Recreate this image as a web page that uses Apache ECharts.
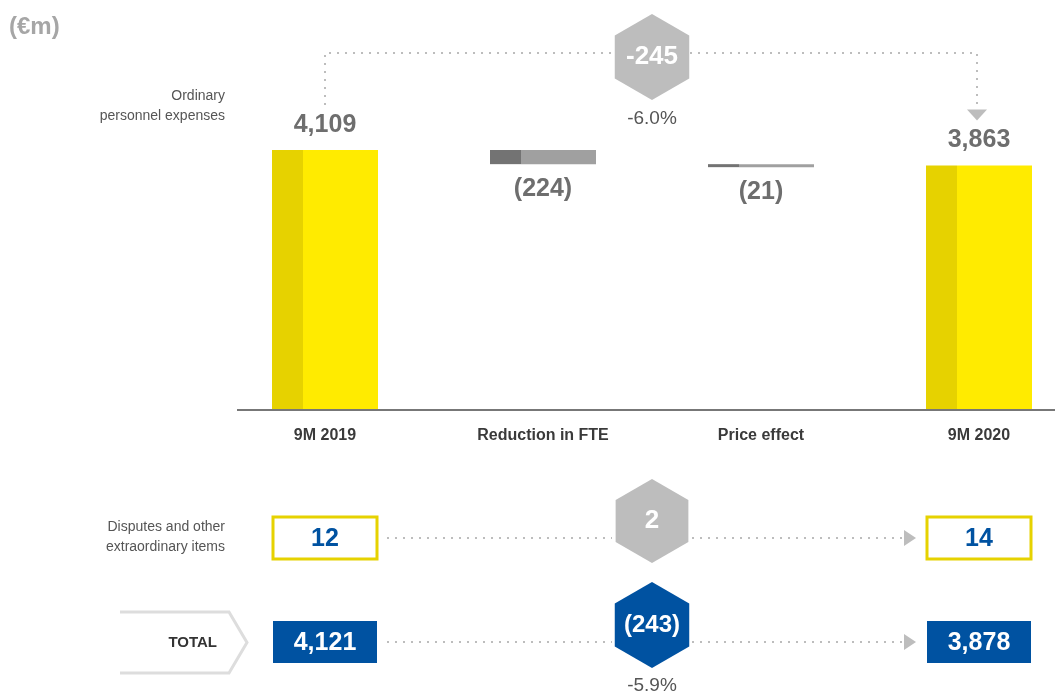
<!DOCTYPE html>
<html>
<head>
<meta charset="utf-8">
<script src="https://cdn.jsdelivr.net/npm/echarts@6/dist/echarts.min.js"></script>
<style>html,body{margin:0;padding:0;background:#fff}#c{width:1055px;height:696px}</style>
</head>
<body>
<div id="c"></div>
<script>
// ---- data ----
const categories = ['9M 2019', 'Reduction in FTE', 'Price effect', '9M 2020'];
const openingValue = 4109;
const bridgeDeltas = [-224, -21];
const closingValue = 3863;
const ordinaryChange = -245;
const ordinaryChangePct = '-6.0%';
const extraItems = [12, 14];
const extraChange = 2;
const totals = [4121, 3878];
const totalChange = -243;
const totalChangePct = '-5.9%';
const unitLabel = '(€m)';
const ordinaryLabel = 'Ordinary\npersonnel expenses';
const extraLabel = 'Disputes and other\nextraordinary items';
const totalLabel = 'TOTAL';

// ---- helpers ----
const FONT = "'Liberation Sans', Arial, sans-serif";
const fmt = v => Math.abs(v).toLocaleString('en-US');
const paren = v => v < 0 ? '(' + fmt(v) + ')' : fmt(v);

// build waterfall items: [index, low, high, kind, delta]
const wf = [];
wf.push([0, 0, openingValue, 0, openingValue]);
let run = openingValue;
bridgeDeltas.forEach((d, i) => {
  const next = run + d;
  wf.push([i + 1, Math.min(run, next), Math.max(run, next), 1, d]);
  run = next;
});
wf.push([categories.length - 1, 0, closingValue, 0, closingValue]);

const chart = echarts.init(document.getElementById('c'));

const option = {
  animation: false,
  grid: { left: 216, width: 872, top: 93.6, height: 316.4, outerBoundsMode: 'none', containLabel: false },
  xAxis: {
    type: 'category',
    data: categories,
    axisLine: { show: false },
    axisTick: { show: false },
    axisLabel: { margin: 18, fontFamily: FONT, fontSize: 16, fontWeight: 'bold', color: '#3a3a3a' }
  },
  yAxis: { type: 'value', min: 0, max: 5000, show: false },
  series: [{
    type: 'custom',
    data: wf,
    dimensions: ['idx', 'lo', 'hi', 'kind', 'delta'],
    encode: { x: 0, y: [1, 2] },
    renderItem: function (params, api) {
      const idx = api.value(0), lo = api.value(1), hi = api.value(2), kind = api.value(3), delta = api.value(4);
      const pTop = api.coord([idx, hi]);
      const pBot = api.coord([idx, lo]);
      const w = 106, darkW = 31;
      const x0 = pTop[0] - w / 2;
      let h = pBot[1] - pTop[1];
      if (h < 3) h = 3;
      const dark = kind === 0 ? '#E6D200' : '#737373';
      const light = kind === 0 ? '#FFEB00' : '#A0A0A0';
      const label = kind === 0 ? fmt(delta) : paren(delta);
      const ly = kind === 0 ? pTop[1] - 25 : pTop[1] + h + 25;
      return {
        type: 'group',
        children: [
          { type: 'rect', shape: { x: x0, y: pTop[1], width: darkW, height: h }, style: { fill: dark } },
          { type: 'rect', shape: { x: x0 + darkW, y: pTop[1], width: w - darkW, height: h }, style: { fill: light } },
          { type: 'text', style: { text: label, x: pTop[0], y: ly, align: 'center', verticalAlign: 'middle',
              fontFamily: FONT, fontSize: 25, fontWeight: 700, fill: '#6E6E6E' } }
        ]
      };
    }
  }]
};
chart.setOption(option);

const xs = categories.map((c, i) => chart.convertToPixel({ xAxisIndex: 0 }, i));
const baseY = chart.convertToPixel({ yAxisIndex: 0 }, 0);
const yOpen = chart.convertToPixel({ yAxisIndex: 0 }, openingValue);
const yClose = chart.convertToPixel({ yAxisIndex: 0 }, closingValue);
const midX = (xs[0] + xs[3]) / 2;
const DOT = { stroke: '#BDBDBD', lineWidth: 2, lineDash: [2, 6] };

function txt(x, y, text, size, weight, fill, align) {
  return { type: 'text', z: 11, style: { text: text, x: x, y: y, align: align || 'center', verticalAlign: 'middle',
    fontFamily: FONT, fontSize: size, fontWeight: weight, fill: fill, lineHeight: 20 } };
}
function hex(cx, cy, r, fill, text, size) {
  const pts = [];
  for (let k = 0; k < 6; k++) {
    const a = Math.PI / 2 + k * Math.PI / 3;
    pts.push([cx + r * Math.cos(a), cy - r * Math.sin(a)]);
  }
  return [
    { type: 'polygon', shape: { points: pts }, style: { fill: fill }, z: 10 },
    txt(cx, cy, text, size, 700, '#fff')
  ];
}
function rightArrow(x, y) {
  return { type: 'polygon', shape: { points: [[x, y - 8], [x + 12, y], [x, y + 8]] }, style: { fill: '#BDBDBD' } };
}
function box(cx, cy, value, filled) {
  return [
    { type: 'rect', shape: { x: cx - 52, y: cy - 21, width: 104, height: 42 },
      style: filled ? { fill: '#0052A1' } : { fill: '#fff', stroke: '#E6D200', lineWidth: 3 } },
    txt(cx, cy + 1, fmt(value), 25, 700, filled ? '#fff' : '#0052A1')
  ];
}

const topY = 53;
const row1 = 538, row2 = 642;
const g = [];
// axis line
g.push({ type: 'line', shape: { x1: 237, y1: baseY, x2: 1055, y2: baseY }, style: { stroke: '#777', lineWidth: 2 }, z: 5 });
// unit & row labels
g.push(txt(9, 27, unitLabel, 24, 700, '#A6A6A6', 'left'));
g.push(txt(225, 106, ordinaryLabel, 14, 'normal', '#555', 'right'));
g.push(txt(225, 537, extraLabel, 14, 'normal', '#555', 'right'));
// top connector
g.push({ type: 'polyline', shape: { points: [[xs[0], yOpen - 45], [xs[0], topY], [midX - 38, topY]] }, style: Object.assign({ fill: null }, DOT) });
g.push({ type: 'polyline', shape: { points: [[midX + 38, topY], [xs[3] - 2, topY], [xs[3] - 2, yClose - 57]] }, style: Object.assign({ fill: null }, DOT) });
g.push({ type: 'polygon', shape: { points: [[xs[3] - 12, yClose - 56], [xs[3] + 8, yClose - 56], [xs[3] - 2, yClose - 45]] }, style: { fill: '#BDBDBD' } });
g.push(...hex(midX, 57, 43, '#BDBDBD', String(ordinaryChange), 26));
g.push(txt(midX, 119, ordinaryChangePct, 19, 'normal', '#555'));
// row 1: extraordinary items
g.push(...box(xs[0], row1, extraItems[0], false));
g.push(...box(xs[3], row1, extraItems[1], false));
g.push({ type: 'line', shape: { x1: xs[0] + 62, y1: row1, x2: midX - 40, y2: row1 }, style: DOT });
g.push({ type: 'line', shape: { x1: midX + 40, y1: row1, x2: xs[3] - 75, y2: row1 }, style: DOT });
g.push(rightArrow(xs[3] - 75, row1));
g.push(...hex(midX, 521, 42, '#BDBDBD', String(extraChange), 26));
// row 2: total
g.push({ type: 'polyline', shape: { points: [[120, 612], [229, 612], [247, 642.5], [229, 673], [120, 673]] }, style: { fill: '#fff', stroke: '#DDDDDD', lineWidth: 3 } });
g.push(txt(217, 643, totalLabel, 15, 700, '#333', 'right'));
g.push(...box(xs[0], row2, totals[0], true));
g.push(...box(xs[3], row2, totals[1], true));
g.push({ type: 'line', shape: { x1: xs[0] + 62, y1: row2, x2: midX - 40, y2: row2 }, style: DOT });
g.push({ type: 'line', shape: { x1: midX + 40, y1: row2, x2: xs[3] - 75, y2: row2 }, style: DOT });
g.push(rightArrow(xs[3] - 75, row2));
g.push(...hex(midX, 625, 43, '#0052A1', paren(totalChange), 24));
g.push(txt(midX, 686, totalChangePct, 19, 'normal', '#555'));

chart.setOption({ graphic: g });
</script>
</body>
</html>
